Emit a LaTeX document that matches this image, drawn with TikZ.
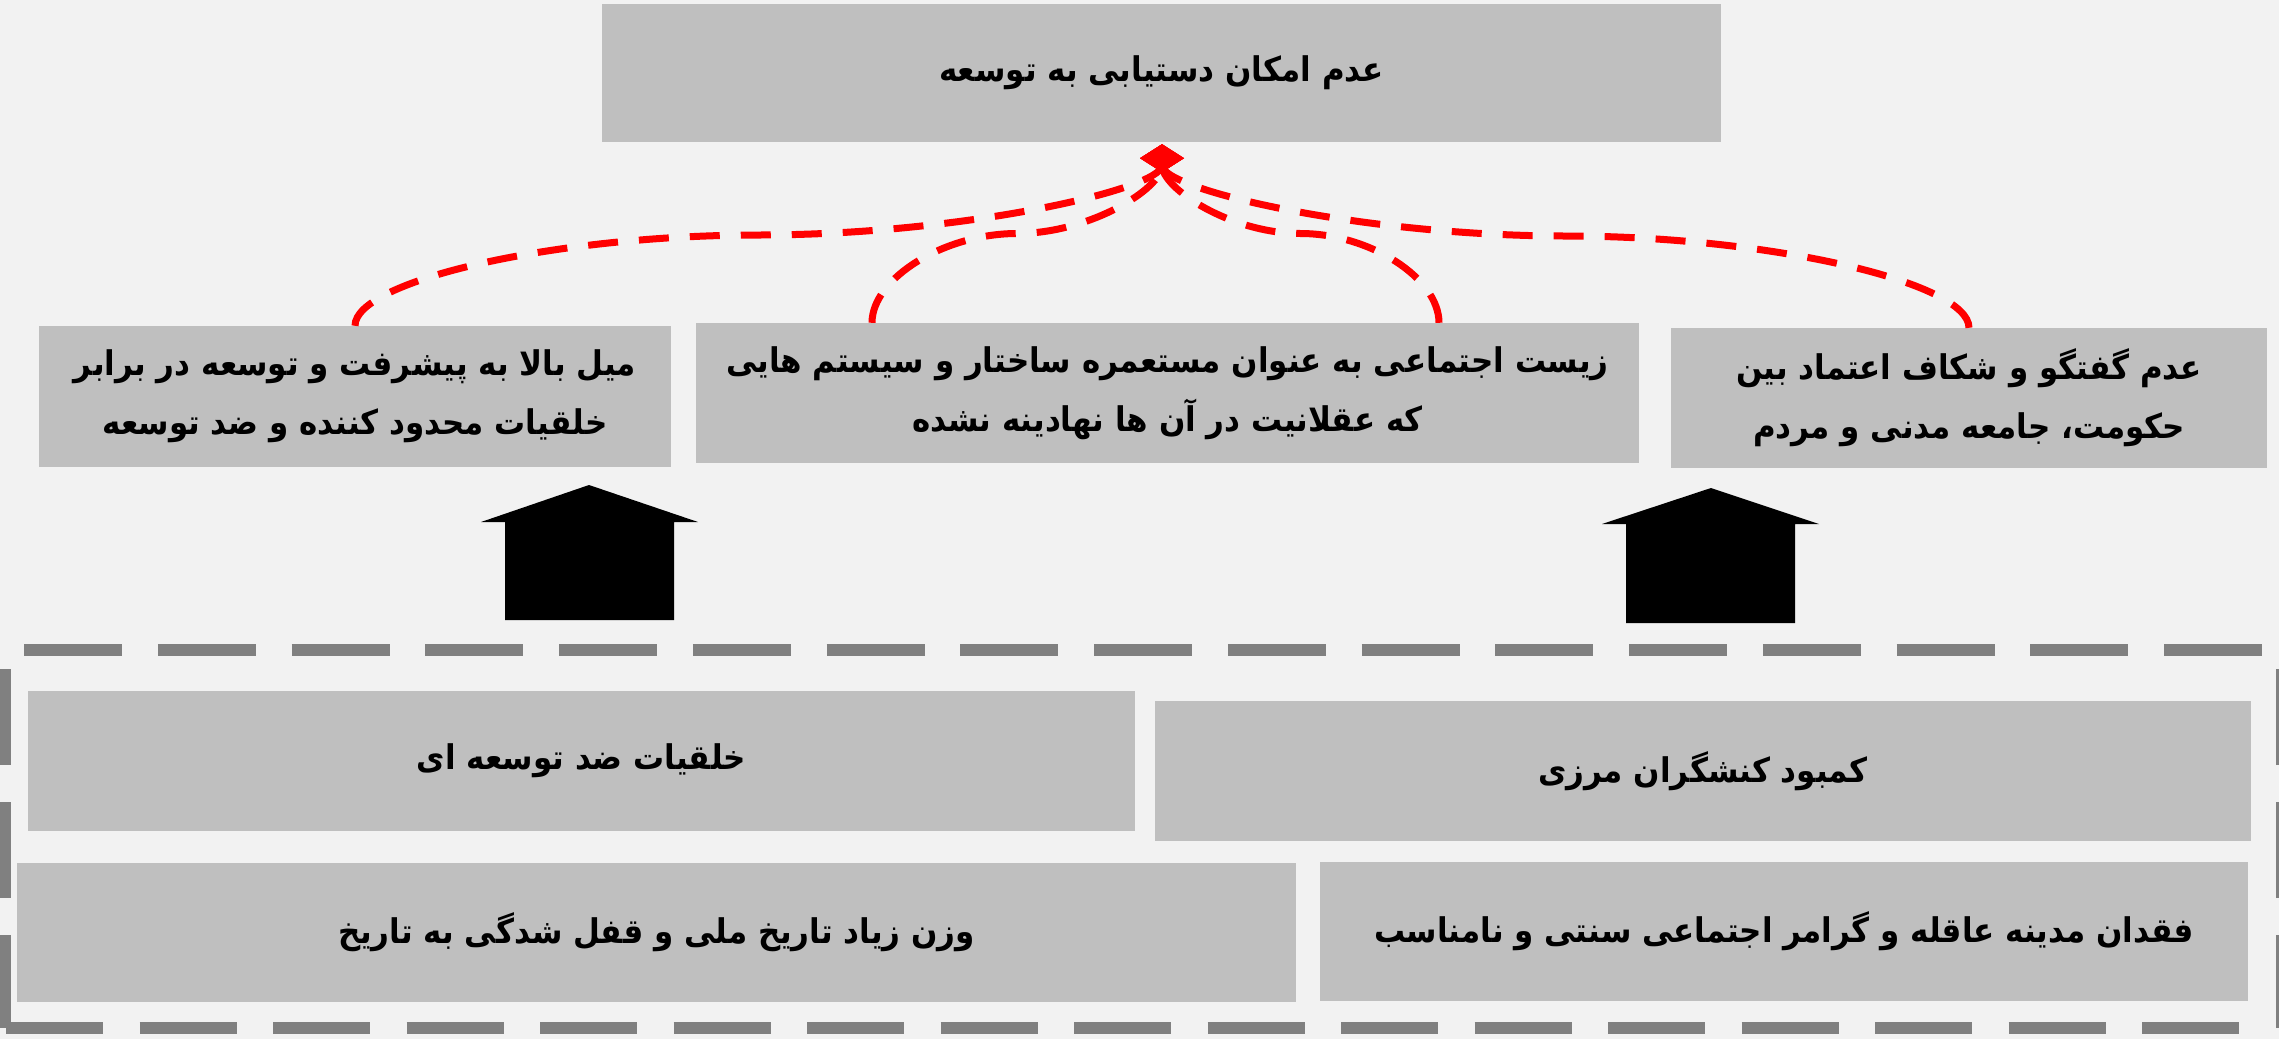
\documentclass[tikz,border=0pt]{standalone}
\usepackage{fontspec}
\usetikzlibrary{arrows.meta,calc}
\TeXXeTstate=1
\newfontfamily\arfont[Script=Arabic,FakeStretch=0.91]{DejaVu Sans}
\definecolor{bggray}{HTML}{F2F2F2}
\definecolor{boxgray}{HTML}{BFBFBF}
\definecolor{dashgray}{HTML}{808080}
\newcommand{\rl}[1]{\beginR #1\endR}
\tikzset{
  box/.style={fill=boxgray, inner sep=0pt, align=center,
    font=\arfont\bfseries\fontsize{34}{59}\selectfont},
  curvconn/.style={to path={
    let \p1=(\tikztostart), \p2=(\tikztotarget) in
    .. controls (\x1,{0.75*\y1+0.25*\y2}) and ({0.75*\x1+0.25*\x2},{0.5*\y1+0.5*\y2})
    .. ({0.5*\x1+0.5*\x2},{0.5*\y1+0.5*\y2})
    .. controls ({0.25*\x1+0.75*\x2},{0.5*\y1+0.5*\y2}) and (\x2,{0.25*\y1+0.75*\y2})
    .. (\x2,\y2) \tikztonodes}},
  redconn/.style={draw=red, line width=7pt, dash pattern=on 30pt off 21pt,
    -{Turned Square[width=44pt,length=28pt,line width=0pt]}, curvconn},
  gborder/.style={draw=dashgray, line width=12pt},
  blockarrow/.style={fill=black}
}
\begin{document}
\begin{tikzpicture}[x=1pt,y=-1pt]
\useasboundingbox (0,0) rectangle (2279,1039);
\fill[bggray] (0,0) rectangle (2279,1039);

% top box
\node[box, minimum width=1119pt, minimum height=138pt] (top) at (1161.5,73)
  {\rl{عدم امکان دستیابی به توسعه}};

% middle row
\node[box, minimum width=632pt, minimum height=141pt] (L1) at (355,396.5)
  {\rl{میل بالا به پیشرفت و توسعه در برابر}\\ \rl{خلقیات محدود کننده و ضد توسعه}};
\node[box, minimum width=943pt, minimum height=140pt] (M1) at (1167.5,393)
  {\rl{زیست اجتماعی به عنوان مستعمره ساختار و سیستم هایی}\\ \rl{که عقلانیت در آن ها نهادینه نشده}};
\node[box, minimum width=596pt, minimum height=140pt] (R1) at (1969,398)
  {\rl{عدم گفتگو و شکاف اعتماد بین}\\ \rl{حکومت، جامعه مدنی و مردم}};

% lower boxes
\node[box, minimum width=1107pt, minimum height=140pt] (A) at (581.5,761)
  {\rl{خلقیات ضد توسعه ای}};
\node[box, minimum width=1096pt, minimum height=140pt] (B) at (1703,771)
  {\rl{کمبود کنشگران مرزی}};
\node[box, minimum width=1279pt, minimum height=139pt] (C) at (656.5,932.5)
  {\rl{وزن زیاد تاریخ ملی و قفل شدگی به تاریخ}};
\node[box, minimum width=928pt, minimum height=139pt] (D) at (1784,931.5)
  {\rl{فقدان مدینه عاقله و گرامر اجتماعی سنتی و نامناسب}};

% dashed frame
\draw[gborder, dash pattern=on 98pt off 35.75pt] (24,650) -- (2262,650);
\draw[gborder, dash pattern=on 97pt off 36.5pt] (6,1028) -- (2243,1028);
\draw[gborder, dash pattern=on 96pt off 37pt, dash phase=3pt] (5,1028) -- (5,650);
\draw[gborder, dash pattern=on 96pt off 37pt, dash phase=3pt] (2282,1028) -- (2282,650);

% block arrows
\fill[blockarrow] (481,522) -- (589,485) -- (698,522) -- (674,522) -- (674,620)
  -- (505,620) -- (505,522) -- cycle;
\fill[blockarrow] (1602,524) -- (1711,488) -- (1819,524) -- (1795,524) -- (1795,623)
  -- (1626,623) -- (1626,524) -- cycle;

% red dashed curved connectors
\coordinate (tip) at ([xshift=0.5pt,yshift=-2pt]top.south);
\draw[redconn] (L1.north) to (tip);
\draw[redconn] ([xshift=-295.5pt]M1.north) to (tip);
\draw[redconn] ([xshift=271.5pt]M1.north) to (tip);
\draw[redconn] (R1.north) to (tip);
\end{tikzpicture}
\end{document}
